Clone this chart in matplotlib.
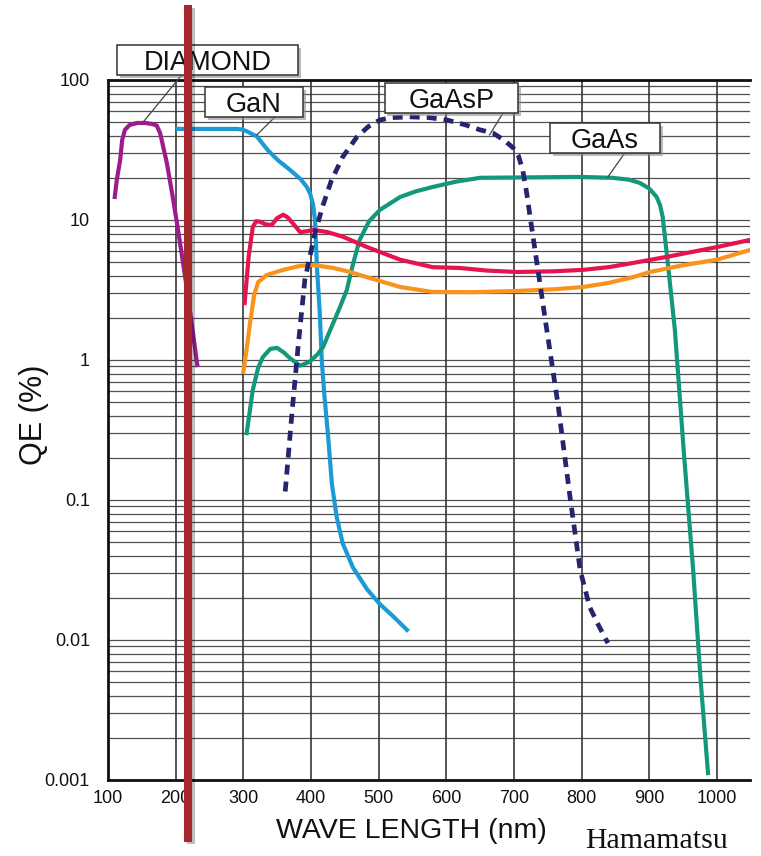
import matplotlib
matplotlib.use('Agg')
import matplotlib.pyplot as plt
import matplotlib.patheffects as pe
from matplotlib.patches import Rectangle
from matplotlib.ticker import FixedLocator, LogLocator, NullFormatter, FixedFormatter
import matplotlib.transforms as mtransforms
import numpy as np

plt.rcParams['font.family'] = ['Liberation Sans', 'DejaVu Sans']

# QE curves (wavelength in nm, QE in %)
diamond_nm = [110, 113, 118, 121, 125, 132, 143, 155, 165, 172, 177, 181, 187,
              195, 202, 217, 232]
diamond_qe = [14.6, 19.3, 26.8, 37.3, 44.0, 47.7, 49.3, 49.3, 48.5, 47.3,
              41.8, 34.4, 25.5, 15.3, 9.5, 3.16, 0.92]

gan_nm = [203, 250, 290, 298, 305, 320, 336, 352, 369, 385, 394, 399, 403,
          406, 409, 413, 416, 420, 425, 431, 438, 447, 462, 483, 502, 520, 542]
gan_qe = [44.7, 44.7, 44.7, 44.3, 43.0, 39.5, 31.6, 26.5, 22.8, 19.5, 17.2,
          15.3, 13.0, 10.0, 4.5, 2.2, 1.0, 0.55, 0.3, 0.13, 0.076, 0.049,
          0.033, 0.023, 0.018, 0.015, 0.0118]

gaasp_nm = [362, 372, 381, 391, 406, 418, 430, 447, 468, 485, 502, 520, 546,
            575, 601, 630, 650, 669, 686, 699, 707, 713, 719, 724, 735, 746,
            765, 783, 798, 812, 826, 839]
gaasp_qe = [0.115, 0.42, 1.24, 3.73, 8.1, 12.8, 19.0, 28.2, 39.2, 46.5, 51.8,
            53.8, 54.5, 53.8, 51.8, 47.5, 44.0, 41.8, 37.0, 32.7, 28.5, 22.8,
            15.5, 10.5, 4.6, 2.0, 0.49, 0.105, 0.0316, 0.0172, 0.0125, 0.0095]

gaas_nm = [305, 314, 322, 329, 340, 350, 360, 369, 384, 398, 410, 418, 430,
           443, 453, 462, 472, 486, 502, 532, 555, 580, 615, 650, 798, 846,
           870, 886, 900, 911, 916, 920, 927, 938, 951, 965, 976, 987]
gaas_qe = [0.30, 0.61, 0.88, 1.05, 1.2, 1.22, 1.13, 1.03, 0.91, 0.97, 1.1,
           1.24, 1.7, 2.39, 3.16, 4.8, 7.2, 9.8, 11.8, 14.6, 16.0, 17.2, 18.8,
           20.0, 20.3, 20.0, 19.4, 18.4, 16.8, 14.6, 12.8, 10.5, 5.2, 1.64,
           0.227, 0.0316, 0.0052, 0.00112]

red_nm = [302, 308, 314, 319, 325, 333, 342, 350, 359, 366, 373, 384, 394,
          403, 424, 447, 483, 532, 580, 620, 660, 704, 760, 802, 840, 876,
          926, 1000, 1049]
red_qe = [2.55, 5.5, 8.9, 9.8, 9.7, 9.3, 9.2, 10.3, 10.9, 10.4, 9.5, 8.2, 8.3,
          8.5, 8.2, 7.6, 6.4, 5.2, 4.6, 4.54, 4.35, 4.25, 4.3, 4.4, 4.6, 4.93,
          5.45, 6.4, 7.2]

orange_nm = [300, 305, 310, 316, 322, 335, 359, 384, 403, 433, 458, 483, 532,
             580, 640, 704, 760, 802, 840, 876, 901, 950, 1000, 1049]
orange_qe = [0.82, 1.2, 1.84, 2.9, 3.6, 4.05, 4.4, 4.7, 4.77, 4.54, 4.25, 3.9,
             3.32, 3.06, 3.05, 3.11, 3.2, 3.32, 3.55, 3.9, 4.25, 4.75, 5.2, 6.1]

marker_nm = 218

x_ticks = [100, 200, 300, 400, 500, 600, 700, 800, 900, 1000]
y_ticks = [0.001, 0.01, 0.1, 1, 10, 100]
y_ticklabels = ['0.001', '0.01', '0.1', '1', '10', '100']

# label boxes: text, x range (nm), y range (QE), leader start, leader end
labels = [
    ('DIAMOND', (113, 381), (108.6, 177.8), (209, 108.6), (152, 50)),
    ('GaN', (243, 388), (54.5, 89.1), (347, 54.5), (320, 40.5)),
    ('GaAsP', (509, 706), (58.1, 95.2), (684, 58.1), (664, 40.5)),
    ('GaAs', (753, 916), (30.1, 49.3), (864, 30.1), (839, 20.3)),
]

fig = plt.figure(figsize=(7.61, 8.56), dpi=100)
ax = fig.add_axes([0.1419, 0.0888, 0.8436, 0.8178])

ax.set_yscale('log')
ax.set_xlim(100, 1049)
ax.set_ylim(0.001, 100)

ax.xaxis.set_major_locator(FixedLocator(x_ticks))
ax.yaxis.set_major_locator(FixedLocator(y_ticks))
ax.yaxis.set_major_formatter(FixedFormatter(y_ticklabels))
ax.yaxis.set_minor_locator(LogLocator(base=10, subs=range(2, 10)))
ax.yaxis.set_minor_formatter(NullFormatter())
ax.tick_params(which='both', length=0, labelsize=13, labelcolor='#111111')
ax.tick_params(axis='y', pad=13)
ax.tick_params(axis='x', pad=7)

ax.grid(axis='x', which='major', color='#555555', lw=1.4)
ax.grid(axis='y', which='both', color='#333333', lw=0.9, alpha=0.85)

for side in ['left', 'bottom', 'top']:
    ax.spines[side].set_linewidth(2)
    ax.spines[side].set_color('#111111')
ax.spines['right'].set_visible(False)

lw = 3.0
ax.plot(diamond_nm, diamond_qe, color='#9c1b8e', lw=lw, solid_joinstyle='round', zorder=3)
ax.plot(gan_nm, gan_qe, color='#1b9ad6', lw=lw, solid_joinstyle='round', zorder=3)
ax.plot(gaas_nm, gaas_qe, color='#14987c', lw=lw, solid_joinstyle='round', zorder=3)
ax.plot(red_nm, red_qe, color='#e5134f', lw=lw, solid_joinstyle='round', zorder=3)
ax.plot(orange_nm, orange_qe, color='#f8941d', lw=lw, solid_joinstyle='round', zorder=3)
ax.plot(gaasp_nm, gaasp_qe, color='#25256f', lw=3.4, linestyle=(0, (2.1, 1.5)),
        dash_capstyle='butt', zorder=4)

for text, (x0, x1), (y0, y1), (lx0, ly0), (lx1, ly1) in labels:
    ax.plot([lx0, lx1], [ly0, ly1], color='#444444', lw=0.9, zorder=5, clip_on=False)
    rect = Rectangle((x0, y0), x1 - x0, y1 - y0, fc='white', ec='#333333', lw=1.1,
                     zorder=6, clip_on=False,
                     path_effects=[pe.SimplePatchShadow(offset=(2, -2), shadow_rgbFace='0.55', alpha=0.6),
                                   pe.Normal()])
    ax.add_patch(rect)
    ax.text((x0 + x1) / 2, np.sqrt(y0 * y1), text, ha='center', va='center_baseline',
            fontsize=19.5, color='#111111', zorder=7, clip_on=False)

# dark red marker line crossing the whole plot
trans = mtransforms.blended_transform_factory(ax.transData, ax.transAxes)
ax.plot([marker_nm, marker_nm], [-0.088, 1.107], transform=trans, color='#a5282f',
        lw=5.8, solid_capstyle='butt', zorder=10, clip_on=False,
        path_effects=[pe.SimpleLineShadow(offset=(2, -2), alpha=0.25), pe.Normal()])

fig.text(411 / 761, 1 - 831 / 856, 'WAVE LENGTH (nm)', ha='center', va='center',
         fontsize=20.5, color='#111111')
fig.text(34 / 761, 1 - 415 / 856, 'QE (%)', ha='center', va='center', rotation=90,
         fontsize=22, color='#111111')
fig.text(585 / 761, 1 - 848 / 856, 'Hamamatsu', ha='left', va='baseline',
         fontsize=21.5, family='Liberation Serif', color='#111111')

fig.savefig('out.png', dpi=100)
